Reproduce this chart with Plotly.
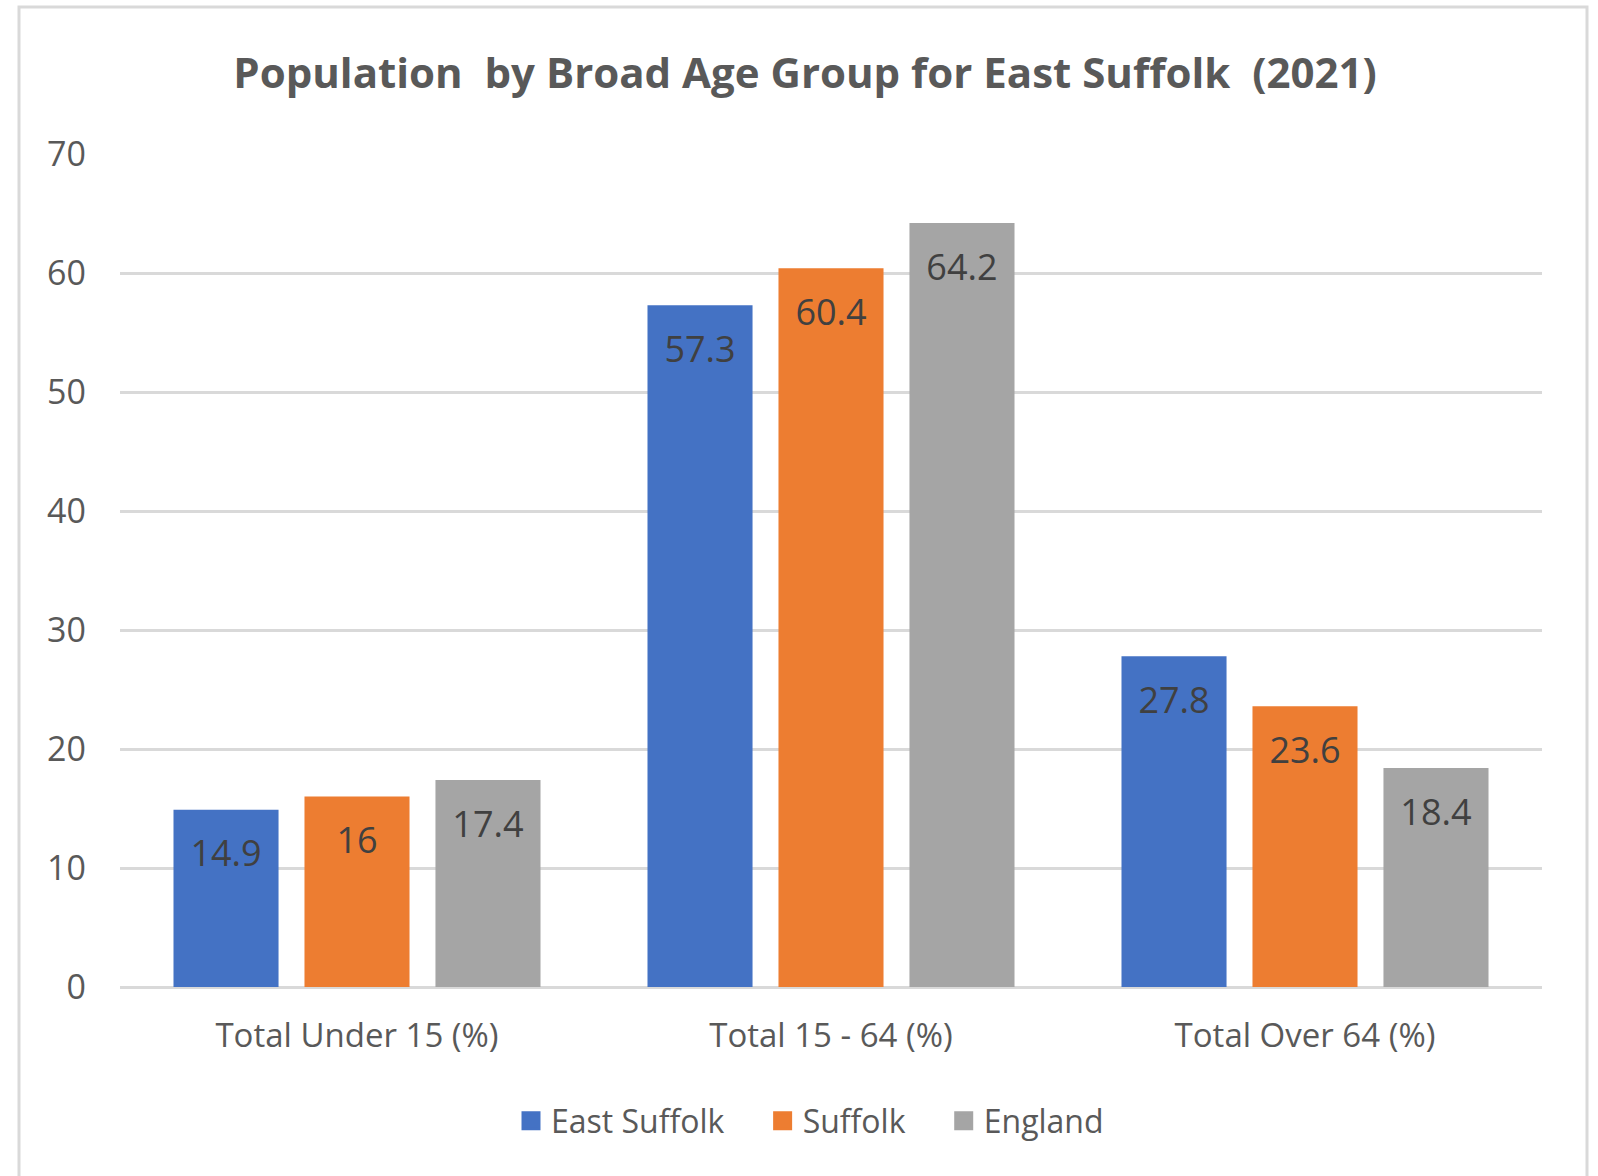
import plotly.graph_objects as go

categories = ["Total Under 15 (%)", "Total 15 - 64 (%)", "Total Over 64 (%)"]
series_names = ["East Suffolk", "Suffolk", "England"]
east_suffolk = [14.9, 57.3, 27.8]
suffolk = [16, 60.4, 23.6]
england = [17.4, 64.2, 18.4]
colors = ["#4472C4", "#ED7D31", "#A5A5A5"]

W, H = 1598, 1176
L, R, T, B = 120, 56, 154, 189
pw, ph = W - L - R, H - T - B
GAP = 0.171

fig = go.Figure()
all_vals = [east_suffolk, suffolk, england]
for name, vals, col in zip(series_names, all_vals, colors):
    fig.add_trace(go.Bar(
        name=name, x=categories, y=vals, marker=dict(color=col, line=dict(width=0)),
        showlegend=False, offsetgroup=name,
    ))
for name, vals, col in zip(series_names, all_vals, colors):
    fig.add_trace(go.Scatter(
        name=name, x=categories, y=vals, mode="markers+text",
        text=[f"{v:g}" for v in vals], textposition="bottom center",
        marker=dict(size=46, opacity=0, color=col),
        textfont=dict(family="Open Sans", size=36, color="#404040"),
        showlegend=False, offsetgroup=name, cliponaxis=False, hoverinfo="skip",
    ))
pad = "\u00a0" * 4
for i, (name, col) in enumerate(zip(series_names, colors)):
    fig.add_trace(go.Scatter(
        name=name + (pad if i < len(series_names) - 1 else ""), x=[None], y=[None], mode="markers",
        marker=dict(symbol="square", size=16, color=col, line=dict(color=col, width=3)),
        showlegend=True,
    ))

fig.update_layout(
    width=W, height=H,
    margin=dict(l=L, r=R, t=T, b=B),
    paper_bgcolor="white", plot_bgcolor="white",
    barmode="group", bargap=GAP, bargroupgap=0.198,
    scattermode="group", scattergap=GAP,
    title=dict(text="Population  by Broad Age Group for East Suffolk  (2021)",
               x=(805) / W, xanchor="center", y=1 - 73 / H, yanchor="middle",
               font=dict(family="Open Sans", size=42, color="#595959", weight=700)),
    font=dict(family="Open Sans", color="#595959"),
    showlegend=True,
    legend=dict(orientation="h", x=(810 - L) / pw, xanchor="center",
                y=(987 - 1121) / ph, yanchor="middle",
                font=dict(size=32, color="#595959"),
                traceorder="normal"),
    xaxis=dict(showgrid=False, ticks="", showline=False, zeroline=False,
               tickfont=dict(size=33, color="#595959"), ticklabelstandoff=26),
    yaxis=dict(range=[0, 70], dtick=10, showgrid=True, gridcolor="#D9D9D9", gridwidth=3,
               zeroline=True, zerolinecolor="#D9D9D9", zerolinewidth=3,
               showline=False, ticks="", tickfont=dict(size=34, color="#595959"),
               ticklabelstandoff=33),
    shapes=[dict(type="rect", xref="paper", yref="paper",
                 x0=(19 - L) / pw, x1=(1587 - L) / pw,
                 y0=(987 - 1200) / ph, y1=(987 - 7) / ph,
                 line=dict(color="#D9D9D9", width=3), fillcolor="rgba(0,0,0,0)", layer="below")],
)

fig.write_html("out.html", config={"displayModeBar": False},
               post_script="document.body.style.margin='0';document.body.style.padding='0';")
